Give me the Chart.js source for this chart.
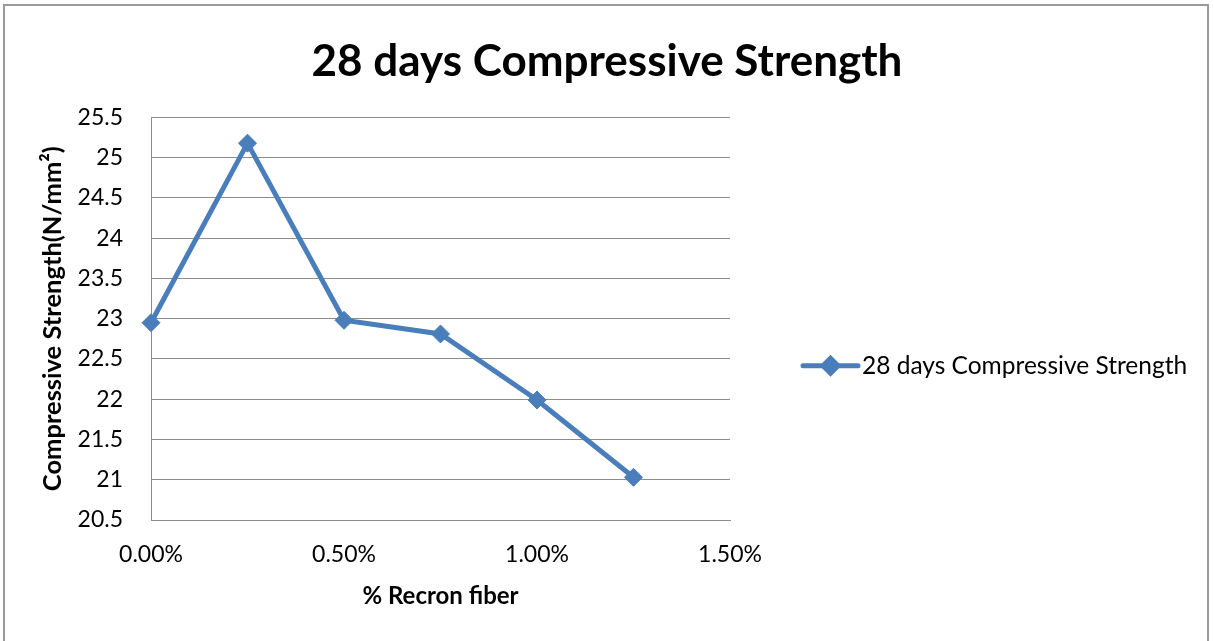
<!DOCTYPE html>
<html>
<head>
<meta charset="utf-8">
<script src="https://cdn.jsdelivr.net/npm/chart.js@4.4.1/dist/chart.umd.min.js"></script>
<style>
  html, body { margin: 0; padding: 0; background: #ffffff; }
  #wrap { width: 1214px; height: 641px; position: relative; }
  canvas { display: block; }
</style>
</head>
<body>
<div id="wrap"><canvas id="chart" width="1214" height="641"></canvas></div>
<script>
// Recron fiber dosage (% by weight) and 28-day compressive strength (N/mm²)
const fiberPercent = [0, 0.25, 0.5, 0.75, 1.0, 1.25];
const strength28 = [22.95, 25.18, 22.98, 22.81, 21.99, 21.03];
const xTickValues = [0, 0.5, 1.0, 1.5];
const yTickValues = [20.5, 21, 21.5, 22, 22.5, 23, 23.5, 24, 24.5, 25, 25.5];
const seriesLabel = '28 days Compressive Strength';
const chartTitle = '28 days Compressive Strength';
const xAxisTitle = '% Recron fiber';
const yAxisTitle = 'Compressive Strength(N/mm²)';

const LINE_BLUE = '#4A7EBB';
const GRID_GREY = '#8c8c8c';
const FONT = 'Lato, "Open Sans", "DejaVu Sans", sans-serif';

// White page with the thin grey frame around the chart
const framePlugin = {
  id: 'frame',
  beforeDraw(chart) {
    const ctx = chart.ctx;
    ctx.save();
    ctx.fillStyle = '#ffffff';
    ctx.fillRect(0, 0, chart.width, chart.height);
    ctx.strokeStyle = '#9a9a9a';
    ctx.lineWidth = 2;
    ctx.strokeRect(4, 5, chart.width - 10, chart.height + 10);
    ctx.restore();
  }
};

// Legend entry: line segment with a diamond marker, then the series name
const lineLegendPlugin = {
  id: 'lineLegend',
  afterDraw(chart) {
    const ds = chart.data.datasets[0];
    const area = chart.chartArea;
    const ctx = chart.ctx;
    const x0 = area.right + 73;
    const x1 = x0 + 55;
    const y = (area.top + area.bottom) / 2 + 47;
    ctx.save();
    ctx.strokeStyle = ds.borderColor;
    ctx.lineWidth = 5;
    ctx.lineCap = 'round';
    ctx.beginPath();
    ctx.moveTo(x0, y);
    ctx.lineTo(x1, y);
    ctx.stroke();
    Chart.helpers.drawPoint(ctx, {
      pointStyle: 'rectRot', radius: 7.5, rotation: 0, borderWidth: 1
    }, (x0 + x1) / 2, y);
    ctx.fillStyle = ds.borderColor;
    ctx.fill();
    ctx.fillStyle = '#000000';
    ctx.font = '24.5px ' + FONT;
    ctx.textAlign = 'left';
    ctx.textBaseline = 'middle';
    ctx.fillText(ds.label, x1 + 4, y);
    ctx.restore();
  }
};

new Chart(document.getElementById('chart'), {
  type: 'line',
  data: {
    datasets: [{
      label: seriesLabel,
      data: fiberPercent.map((x, i) => ({ x: x, y: strength28[i] })),
      borderColor: LINE_BLUE,
      backgroundColor: LINE_BLUE,
      borderWidth: 5,
      tension: 0,
      pointStyle: 'rectRot',
      pointRadius: 9,
      pointHoverRadius: 9,
      pointBorderWidth: 1,
      pointBackgroundColor: LINE_BLUE,
      pointBorderColor: LINE_BLUE,
      clip: false
    }]
  },
  options: {
    responsive: false,
    animation: false,
    devicePixelRatio: 1,
    layout: { padding: 0 },
    plugins: {
      legend: { display: false },
      tooltip: { enabled: false },
      title: {
        display: true,
        text: chartTitle,
        color: '#000000',
        font: { family: FONT, size: 44, weight: 'bold', lineHeight: 1.2 },
        padding: { top: 35.6, bottom: 29 }
      }
    },
    scales: {
      x: {
        type: 'linear',
        position: 'bottom',
        min: 0,
        max: 1.5,
        afterBuildTicks(scale) { scale.ticks = xTickValues.map(v => ({ value: v })); },
        afterFit(scale) { scale.height = 121; },
        grid: { display: false, drawTicks: false },
        border: { display: true, color: GRID_GREY, width: 1 },
        ticks: {
          color: '#000000',
          font: { family: FONT, size: 23 },
          padding: 21,
          maxRotation: 0,
          callback: v => Number(v).toFixed(2) + '%'
        },
        title: {
          display: true,
          text: xAxisTitle,
          color: '#000000',
          font: { family: FONT, size: 24, weight: 'bold', lineHeight: 1.2 },
          padding: { top: 0, bottom: 30.6 }
        }
      },
      y: {
        type: 'linear',
        position: 'left',
        min: 20.5,
        max: 25.5,
        afterBuildTicks(scale) { scale.ticks = yTickValues.map(v => ({ value: v })); },
        afterFit(scale) { scale.width = 151; },
        grid: { color: GRID_GREY, lineWidth: 1, drawTicks: false },
        border: { display: true, color: GRID_GREY, width: 1 },
        ticks: {
          color: '#000000',
          font: { family: FONT, size: 23 },
          padding: 28,
          callback: v => String(v)
        },
        title: {
          display: true,
          text: yAxisTitle,
          color: '#000000',
          font: { family: FONT, size: 25.5, weight: 'bold', lineHeight: 1.2 },
          padding: { top: 37, bottom: 0 }
        }
      },
      legendSpace: {
        type: 'linear',
        position: 'right',
        display: true,
        afterFit(scale) { scale.width = 484; },
        grid: { display: false, drawTicks: false },
        border: { display: false },
        ticks: { display: false }
      }
    }
  },
  plugins: [framePlugin, lineLegendPlugin]
});
</script>
</body>
</html>
